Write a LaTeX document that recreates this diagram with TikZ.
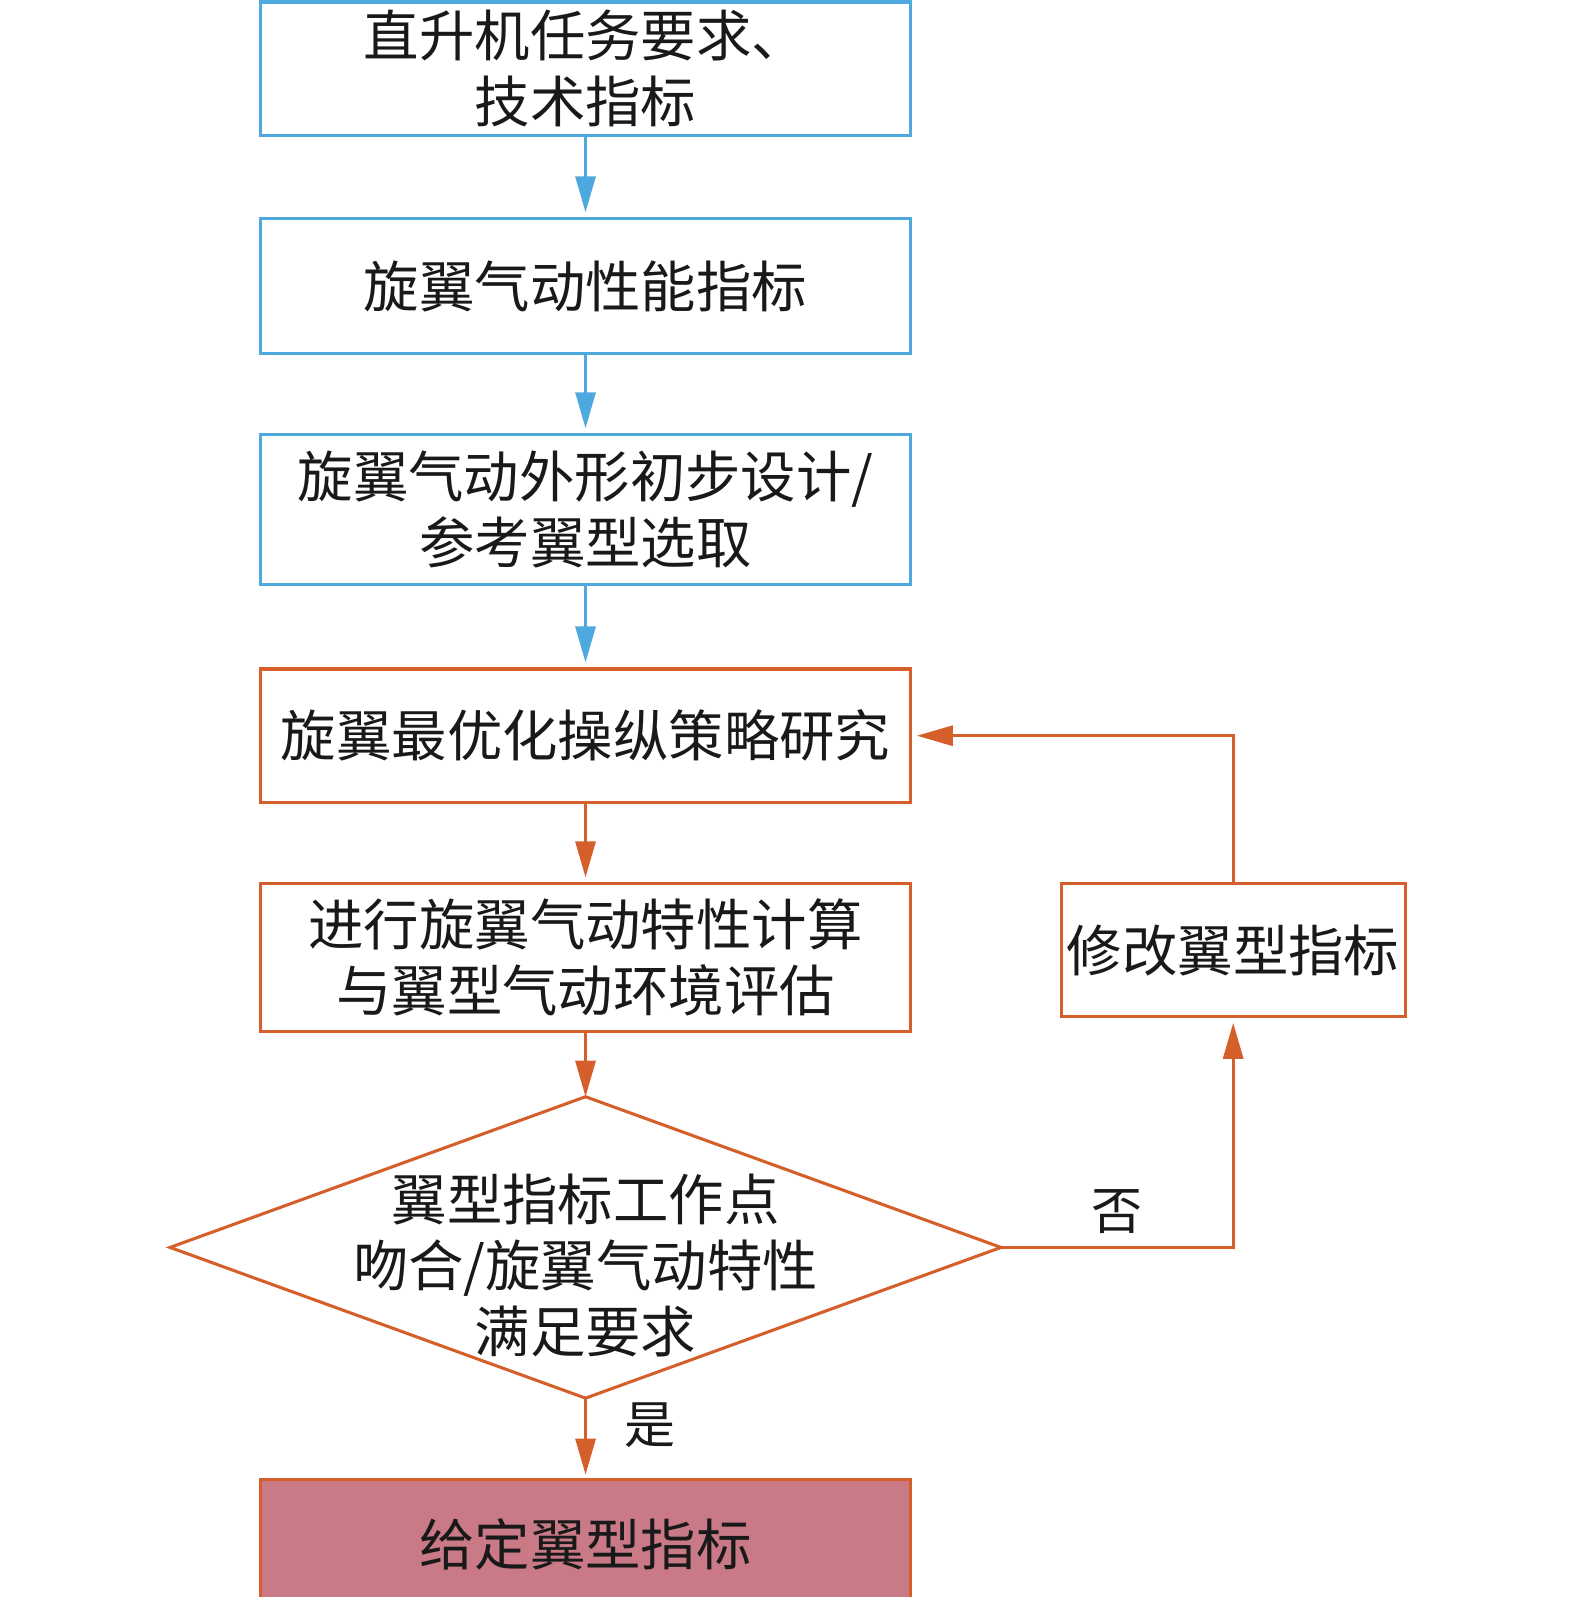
\documentclass[tikz,border=0pt]{standalone}
\usepackage{fontspec}
\setmainfont{Noto Sans CJK SC}
\usetikzlibrary{arrows.meta}
\definecolor{cblue}{HTML}{4EA9DF}
\definecolor{corange}{HTML}{D45F2A}
\definecolor{cpink}{HTML}{C97A86}
\begin{document}
\begin{tikzpicture}[x=0.50916pt,y=-0.50916pt,
  every node/.style={font=\fontsize{27.7pt}{33.1pt}\selectfont, text=black!90, inner sep=0pt, align=center},
  bbox/.style={draw=cblue, line width=1.53pt, minimum width=324.8pt},
  obox/.style={draw=corange, line width=1.53pt, minimum width=324.8pt},
  barrow/.style={draw=cblue, line width=1.53pt, -{Triangle[length=18pt,width=10pt]}, shorten >=2.5pt},
  oarrow/.style={draw=corange, line width=1.53pt, -{Triangle[length=18pt,width=10pt]}, shorten >=2.5pt},
  oline/.style={draw=corange, line width=1.53pt},
  lbl/.style={font=\fontsize{25.5pt}{30pt}\selectfont}]
\useasboundingbox (0,0) rectangle (1546.6,1568.3);
\node[bbox, minimum height=66.7pt] (b1) at (575,67.5) {直升机任务要求、\\技术指标};
\node[bbox, minimum height=67.2pt] (b2) at (575,281) {旋翼气动性能指标};
\node[bbox, minimum height=74.8pt] (b3) at (575,500.5) {旋翼气动外形初步设计/\\参考翼型选取};
\node[obox, minimum height=66.7pt] (b4) at (575,722.5) {旋翼最优化操纵策略研究};
\node[obox, minimum height=73.8pt] (b5) at (575,940.5) {进行旋翼气动特性计算\\与翼型气动环境评估};
\node[obox, minimum width=172.1pt, minimum height=66.2pt] (side) at (1211,933) {修改翼型指标};
% diamond
\coordinate (dT) at (575,1077);
\coordinate (dL) at (167,1225);
\coordinate (dR) at (983,1225);
\coordinate (dB) at (575,1373);
\draw[oline, line join=miter] (dT) -- (dR) -- (dB) -- (dL) -- cycle;
\node (dtext) at (575,1243) {翼型指标工作点\\吻合/旋翼气动特性\\满足要求};
% final box
\fill[cpink] (256,1453) rectangle (894,1568.3);
\draw[oline] (256,1568.3) -- (256,1453) -- (894,1453) -- (894,1568.3);
\node (fin) at (575,1517) {给定翼型指标};
\coordinate (finTop) at (575,1453);
% connectors
\draw[barrow] (b1.south) -- (b2.north);
\draw[barrow] (b2.south) -- (b3.north);
\draw[barrow] (b3.south) -- (b4.north);
\draw[oarrow] (b4.south) -- (b5.north);
\draw[oarrow, shorten >=0pt] (b5.south) -- (dT);
\draw[oarrow] (dB) -- (finTop);
\draw[oarrow] (dR) -| (side.south);
\draw[oarrow] (side.north) |- (b4.east);
\node[lbl] (no) at (1097,1190) {否};
\node[lbl] (yes) at (638,1400) {是};
\end{tikzpicture}
\end{document}
